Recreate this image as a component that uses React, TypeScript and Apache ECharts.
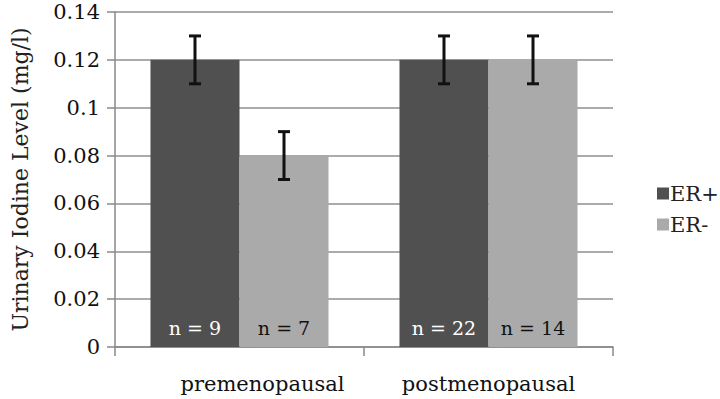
import React, { useEffect, useRef } from "react";
import * as echarts from "echarts";

const categories = ["premenopausal", "postmenopausal"];
const seriesNames = ["ER+", "ER-"];
const erPosValues = [0.12, 0.12];
const erNegValues = [0.08, 0.12];
const erPosErr = [0.01, 0.01];
const erNegErr = [0.01, 0.01];
const erPosN = ["n = 9", "n = 22"];
const erNegN = ["n = 7", "n = 14"];
const yTicks = [0, 0.02, 0.04, 0.06, 0.08, 0.1, 0.12, 0.14];

const FONT = "DejaVu Serif";
const GAP = 0.285;

export default function App() {
  const ref = useRef<HTMLDivElement>(null);
  useEffect(() => {
    if (!ref.current) return;
    const chart = echarts.init(ref.current, undefined, { renderer: "svg" });
    const errData: number[][] = [];
    categories.forEach((_, i) => {
      errData.push([i, erPosValues[i] - erPosErr[i], erPosValues[i] + erPosErr[i], 0]);
      errData.push([i, erNegValues[i] - erNegErr[i], erNegValues[i] + erNegErr[i], 1]);
    });
    chart.setOption({
      animation: false,
      textStyle: { fontFamily: FONT },
      grid: { left: 115, right: 107, top: 12, bottom: 52, containLabel: false },
      legend: {
        orient: "vertical",
        left: 652,
        top: 178,
        itemWidth: 12,
        itemHeight: 12,
        itemGap: 10,
        icon: "rect",
        textStyle: { fontFamily: FONT, fontSize: 21, color: "#222", padding: [0, 0, 0, -4] },
        data: seriesNames,
      },
      xAxis: {
        type: "category",
        data: categories.map((c, i) =>
          i === 0 ? { value: c, textStyle: { padding: [0, 0, 0, 46] } } : c
        ),
        axisLine: { lineStyle: { color: "#888", width: 1.5 } },
        axisTick: { show: true, length: 9, lineStyle: { color: "#888", width: 1.5 } },
        axisLabel: { fontFamily: FONT, fontSize: 21, color: "#111", margin: 26 },
      },
      yAxis: {
        type: "value",
        min: 0,
        max: 0.14,
        interval: 0.02,
        name: "Urinary Iodine Level (mg/l)",
        nameLocation: "middle",
        nameGap: 84,
        nameTextStyle: { fontFamily: FONT, fontSize: 22, color: "#222" },
        axisLine: { show: true, lineStyle: { color: "#888", width: 1.5 } },
        axisTick: { show: true, length: 8, lineStyle: { color: "#888", width: 1.5 } },
        axisLabel: {
          fontFamily: FONT,
          fontSize: 21,
          color: "#111",
          margin: 15,
          formatter: (v: number) => {
            const t = yTicks.find((x) => Math.abs(x - v) < 1e-9);
            return String(t !== undefined ? parseFloat(t.toFixed(2)) : v);
          },
        },
        splitLine: { lineStyle: { color: "#8f8f8f", width: 1.5 } },
      },
      series: [
        {
          name: "ER+",
          type: "bar",
          data: erPosValues,
          barGap: "0%",
          barCategoryGap: GAP * 100 + "%",
          itemStyle: { color: "#505050" },
          label: {
            show: true,
            position: "insideBottom",
            distance: 10,
            formatter: (p: any) => erPosN[p.dataIndex],
            fontFamily: FONT,
            fontSize: 19,
            color: "#fff",
          },
        },
        {
          name: "ER-",
          type: "bar",
          data: erNegValues,
          itemStyle: { color: "#aaaaaa" },
          label: {
            show: true,
            position: "insideBottom",
            distance: 10,
            formatter: (p: any) => erNegN[p.dataIndex],
            fontFamily: FONT,
            fontSize: 19,
            color: "#111",
          },
        },
        {
          type: "custom",
          data: errData,
          z: 10,
          renderItem: (params: any, api: any) => {
            const cat = api.value(0);
            const lo = api.coord([cat, api.value(1)]);
            const hi = api.coord([cat, api.value(2)]);
            const idx = api.value(3);
            const catW = api.size([1, 0])[0];
            const bw = (catW * (1 - GAP)) / 2;
            const x = lo[0] + (idx === 0 ? -bw / 2 : bw / 2);
            const cap = 6;
            const style = { stroke: "#111", lineWidth: 3 };
            return {
              type: "group",
              children: [
                { type: "line", shape: { x1: x, y1: lo[1], x2: x, y2: hi[1] }, style },
                { type: "line", shape: { x1: x - cap, y1: lo[1], x2: x + cap, y2: lo[1] }, style },
                { type: "line", shape: { x1: x - cap, y1: hi[1], x2: x + cap, y2: hi[1] }, style },
              ],
            };
          },
        },
      ],
    });
    return () => chart.dispose();
  }, []);
  return <div ref={ref} style={{ width: 720, height: 399, position: "absolute", left: 0, top: 0 }} />;
}
